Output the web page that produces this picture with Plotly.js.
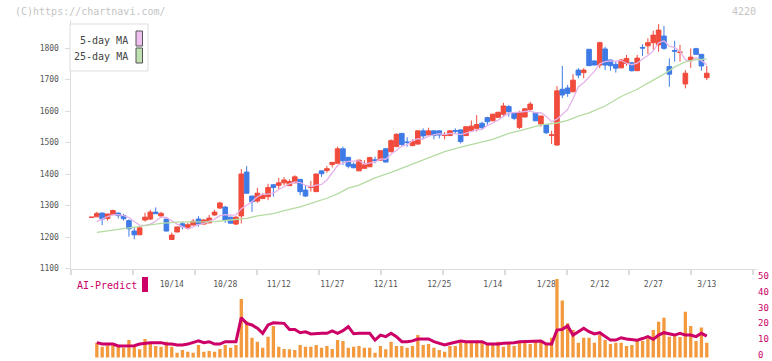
<!DOCTYPE html>
<html><head><meta charset="utf-8">
<script src="https://cdn.plot.ly/plotly-3.0.1.min.js"></script>
<style>html,body{margin:0;padding:0;background:#fff}#chart{width:772px;height:361px}</style>
</head><body><div id="chart"></div>
<script>
// x tick labels (trading-day index of each labelled date)
const tickIdx = [15, 25, 35, 45, 55, 65, 75, 85, 95, 105, 115];
const tickLabels = ['10/14','10/28','11/12','11/27','12/11','12/25','1/14','1/28','2/12','2/27','3/13'];
const volTicks = [0, 10, 20, 30, 40, 50];

const openP = [1262,1264,1276,1259,1272,1276,1268,1252,1219,1207,
 1254,1257,1279,1267,1257,1192,1216,1242,1228,1238,
 1257,1241,1245,1270,1292,1295,1263,1241,1267,1406,
 1330,1314,1322,1328,1366,1364,1372,1363,1372,1383,
 1349,1357,1344,1410,1411,1430,1434,1480,1453,1431,
 1410,1418,1423,1445,1444,1480,1471,1487,1529,1502,
 1490,1495,1537,1524,1537,1537,1522,1522,1538,1540,
 1522,1538,1545,1561,1579,1569,1580,1590,1614,1595,
 1548,1581,1605,1595,1559,1556,1523,1492,1669,1673,
 1661,1730,1722,1796,1759,1746,1797,1762,1748,1737,
 1751,1753,1728,1802,1807,1817,1810,1838,1741,1792,
 1786,1686,1760,1798,1780,1706];
const highP = [1263,1280,1277,1274,1287,1277,1273,1256,1231,1230,
 1277,1286,1294,1280,1258,1214,1232,1249,1245,1257,
 1266,1257,1270,1286,1312,1298,1264,1266,1416,1425,
 1331,1356,1340,1369,1367,1388,1390,1383,1396,1384,
 1363,1378,1401,1411,1425,1438,1487,1487,1454,1437,
 1445,1444,1455,1455,1476,1483,1510,1529,1530,1517,
 1510,1538,1545,1547,1538,1538,1533,1538,1545,1541,
 1551,1570,1587,1566,1582,1591,1597,1626,1619,1596,
 1601,1609,1629,1596,1585,1557,1537,1679,1743,1683,
 1717,1736,1736,1797,1760,1820,1804,1763,1756,1766,
 1778,1756,1778,1812,1831,1855,1876,1870,1767,1823,
 1810,1730,1799,1801,1781,1743];
const lowP = [1262,1264,1238,1252,1271,1259,1252,1201,1193,1206,
 1249,1254,1273,1261,1218,1191,1215,1224,1224,1237,
 1233,1240,1244,1267,1289,1245,1243,1238,1243,1338,
 1280,1309,1321,1317,1328,1352,1364,1362,1371,1333,
 1327,1344,1343,1391,1404,1421,1433,1429,1418,1418,
 1409,1417,1422,1434,1443,1437,1468,1486,1487,1487,
 1489,1494,1510,1523,1510,1513,1510,1521,1528,1497,
 1521,1534,1535,1540,1556,1568,1579,1582,1582,1571,
 1543,1580,1598,1568,1550,1527,1495,1489,1641,1645,
 1660,1704,1704,1743,1745,1736,1730,1728,1722,1736,
 1744,1725,1727,1775,1781,1794,1788,1794,1677,1757,
 1757,1672,1737,1779,1728,1698];
const closeP = [1263,1275,1257,1273,1284,1268,1258,1226,1207,1229,
 1263,1279,1274,1275,1219,1206,1232,1233,1239,1250,
 1241,1254,1260,1279,1308,1254,1244,1263,1400,1339,
 1312,1339,1332,1357,1357,1372,1381,1376,1391,1344,
 1330,1358,1400,1401,1417,1437,1480,1442,1425,1420,
 1444,1429,1452,1443,1474,1438,1506,1526,1494,1500,
 1503,1537,1521,1537,1522,1524,1523,1537,1536,1503,
 1550,1552,1557,1547,1566,1590,1596,1616,1598,1577,
 1595,1607,1622,1569,1584,1531,1524,1664,1651,1656,
 1698,1714,1730,1744,1746,1817,1746,1744,1736,1762,
 1767,1728,1768,1800,1817,1841,1857,1799,1717,1790,
 1787,1720,1771,1780,1743,1720];

const ma5 = [null,1249,1257,1265,1270,1271,1268,1262,1249,1238,
 1237,1241,1250,1264,1262,1251,1241,1233,1226,1232,
 1239,1243,1249,1257,1268,1271,1269,1270,1290,1300,
 1312,1328,1336,1336,1339,1351,1360,1369,1375,1373,
 1364,1360,1365,1367,1381,1403,1427,1435,1440,1441,
 1442,1432,1434,1438,1448,1447,1463,1477,1488,1493,
 1506,1512,1511,1520,1524,1528,1525,1529,1528,1525,
 1530,1536,1540,1542,1554,1562,1571,1583,1593,1595,
 1596,1599,1600,1594,1595,1583,1566,1574,1591,1605,
 1639,1677,1690,1708,1726,1750,1757,1759,1758,1761,
 1751,1747,1752,1765,1776,1791,1817,1823,1806,1801,
 1790,1763,1757,1770,1760,1747];

// 25-day MA, read at the marked trading days
const ma25Idx = [1,4,7,10,13,16,20,23,26,29,31,34,36,39,41,44,46,48,50,53,56,60,63,66,69,72,75,78,80,84,87,89,91,93,96,99,102,105,107,109,111,113,115];
const ma25 = [1215,1222,1231,1236,1243,1247,1247,1249,1254,1259,1267,1274,1284,1296,1307,1323,1337,1355,1365,1388,1405,1432,1451,1471,1485,1497,1510,1529,1537,1556,1562,1570,1584,1594,1616,1646,1669,1698,1717,1740,1756,1763,1765];

const volume = [0,9.4,6.8,7.7,7.7,6.8,6.2,11,6.8,5.2,
 11.7,9.4,7.2,6.8,10,6.8,3,4.7,3.7,3,
 7.9,3.7,4.1,3.7,5.4,7.9,6.2,7.9,37,23,
 12.5,10,6.2,13.2,20,6.8,5.4,5.2,4.7,7.9,
 6.8,6.8,7.9,6.2,7.2,5.4,11,10.4,6.2,6.8,
 7.2,6.2,6.2,3,7.2,5.2,10,7.2,7.2,6.2,
 7.2,14.2,7.9,8.5,6.2,4.7,3.7,7.2,7.2,9.4,
 9.4,9.4,9.4,9.4,8.5,8.5,10,6.8,8.5,7.2,
 9.4,9.4,8.5,11,9.4,7.9,12.5,49.7,36,21.6,
 17.4,9.4,12.5,12.5,9.4,14.2,11,8.5,9.4,9.4,
 7.2,7.9,10.4,10.4,12,17.4,22.7,25.2,13.2,14.2,
 13,29,20,10.4,19,9.4];

const aiPredict = [null,9.4,8.5,8.5,8.5,7.3,7.3,7.3,7.5,8.5,
 9,9.4,9.4,9.4,8.5,8.5,7.9,7.9,8.5,9.4,
 10.6,9.4,10,8.5,8.5,10,10,10,25.2,21.6,
 20.6,18.5,15.3,20.6,22,21.6,21.6,17.8,17.8,15.7,
 16.3,14.9,15.3,15.3,15.3,16.8,15.3,17,19.5,15,
 15.3,15.3,15.3,11,14.2,13.2,15.3,13.2,10,10,
 10.5,11.7,11.7,11.7,10,9,7.9,8.9,9.5,10.4,
 10,10,10,10,8.5,8.5,8.5,9,9,9.4,
 10,10,10,10,10.4,8.5,8.5,17.4,17.8,20,
 14.2,16.3,18.5,16.3,14.9,15.7,13.2,11,11,12.5,
 11.7,11.5,11,12,13.2,11.5,14.2,15.7,14.9,14.2,
 15.3,14.2,14.2,13.2,15.3,13.5];

const idx = closeP.map((_, i) => i);
const UP = '#f04b3c', DOWN = '#3f7be6';
const FONT = 'DejaVu Sans Mono';
const CRIM = '#cc0066';

// pixel helpers for paper-anchored decorations (plot area: x 71..757, y 20..359)
const L = 71, R = 15, T = 20, B = 2, W = 772, H = 361;
const pw = W - L - R, ph = H - T - B;
const px = v => (v - L) / pw;
const py = v => (H - B - v) / ph;

const traces = [
  {type:'candlestick', x: idx, open: openP, high: highP, low: lowP, close: closeP,
   increasing:{line:{color:UP, width:1}, fillcolor:UP},
   decreasing:{line:{color:DOWN, width:1}, fillcolor:DOWN},
   whiskerwidth:0, hoverinfo:'skip', showlegend:false, xaxis:'x', yaxis:'y'},
  {type:'scatter', mode:'lines', x: idx, y: ma5, line:{color:'#e6b2ea', width:1.3},
   hoverinfo:'skip', showlegend:false, xaxis:'x', yaxis:'y'},
  {type:'scatter', mode:'lines', x: ma25Idx, y: ma25, line:{color:'#b4dca2', width:1.3},
   hoverinfo:'skip', showlegend:false, xaxis:'x', yaxis:'y'},
  {type:'bar', x: idx, y: volume, marker:{color:'#f39a3f'}, hoverinfo:'skip',
   showlegend:false, xaxis:'x', yaxis:'y2'},
  {type:'scatter', mode:'lines', x: idx, y: aiPredict, line:{color:CRIM, width:3},
   hoverinfo:'skip', showlegend:false, xaxis:'x', yaxis:'y2'},
  {type:'scatter', mode:'lines', x: [], y: [], xaxis:'x2', yaxis:'y', showlegend:false, hoverinfo:'skip'}
];

const xr = [-3.83, 124.39];
const mainBottom = py(268.5);

// right-axis labels drawn as annotations (the lowest one sits on the page edge)
const volLabelAnn = volTicks.map(v => ({
  xref:'paper', yref:'y2', x:px(757), y:v, xanchor:'left', yanchor:'middle', showarrow:false,
  text:String(v), borderpad:0, yshift:2.5, font:{family:FONT, size:9, color:CRIM}
}));

const layout = {
  width: W, height: H,
  margin: {l:L, r:R, t:T, b:B},
  paper_bgcolor:'#fff', plot_bgcolor:'rgba(0,0,0,0)',
  font:{family:FONT, size:8, color:'#444'},
  boxgap: 0.1, boxgroupgap: 0.04, bargap: 0.38,
  showlegend:false,
  xaxis:{range:xr, anchor:'y', showgrid:false, zeroline:false, showline:true,
    linecolor:'#dcdcdc', linewidth:1.5, ticks:'', tickmode:'array',
    tickvals: tickIdx, ticktext: tickLabels, ticklabelstandoff: 7,
    tickfont:{family:FONT, size:8, color:'#555'}, rangeslider:{visible:false}, fixedrange:true},
  xaxis2:{range:xr, overlaying:'x', anchor:'y', side:'bottom', showgrid:false, zeroline:false,
    showline:false, ticks:'outside', ticklen:5, tickwidth:2, tickcolor:'#dcdcdc',
    tickmode:'linear', tick0:-3.83, dtick:11.59, showticklabels:false, fixedrange:true},
  yaxis:{domain:[mainBottom, 1], range:[1100, 1889], showgrid:false, zeroline:false,
    showline:true, linecolor:'#dcdcdc', linewidth:1.5, ticks:'outside', ticklen:5, tickcolor:'#dcdcdc',
    tickmode:'array', tickvals:[1100,1200,1300,1400,1500,1600,1700,1800], ticklabelstandoff:4,
    tickfont:{family:FONT, size:8, color:'#555'}, fixedrange:true},
  yaxis2:{domain:[0, mainBottom], range:[-0.95, 56.33], anchor:'x', side:'right',
    showgrid:false, zeroline:false, showline:false, ticks:'', showticklabels:false,
    fixedrange:true},
  shapes:[
    {type:'rect', xref:'paper', yref:'paper', x0:px(70), x1:px(148), y0:py(71), y1:py(24),
     fillcolor:'#fff', line:{color:'#dddddd', width:1}, layer:'above'},
    {type:'rect', xref:'paper', yref:'paper', x0:px(136), x1:px(142.5), y0:py(46), y1:py(31),
     fillcolor:'#efbff0', line:{color:'#555', width:1}, layer:'above'},
    {type:'rect', xref:'paper', yref:'paper', x0:px(136), x1:px(142.5), y0:py(63), y1:py(48),
     fillcolor:'#bfe0b0', line:{color:'#555', width:1}, layer:'above'},
    {type:'rect', xref:'paper', yref:'paper', x0:px(142), x1:px(148), y0:py(292), y1:py(277),
     fillcolor:CRIM, line:{width:0}, layer:'above'}
  ],
  annotations:[
    {xref:'paper', yref:'paper', x:px(13), y:py(12), xanchor:'left', yanchor:'middle', showarrow:false,
     text:'(C)https://chartnavi.com/', font:{family:FONT, size:10, color:'#c4c4c4'}},
    {xref:'paper', yref:'paper', x:px(758), y:py(12), xanchor:'right', yanchor:'middle', showarrow:false,
     text:'4220', font:{family:FONT, size:10, color:'#c4c4c4'}},
    {xref:'paper', yref:'paper', x:px(130), y:py(40), xanchor:'right', yanchor:'middle', showarrow:false,
     text:'5-day MA', font:{family:FONT, size:10, color:'#444'}},
    {xref:'paper', yref:'paper', x:px(130), y:py(56.5), xanchor:'right', yanchor:'middle', showarrow:false,
     text:'25-day MA', font:{family:FONT, size:10, color:'#444'}},
    {xref:'paper', yref:'paper', x:px(75), y:py(285), xanchor:'left', yanchor:'middle', showarrow:false,
     text:'AI-Predict', font:{family:FONT, size:10, color:CRIM}}
  ].concat(volLabelAnn)
};

Plotly.newPlot('chart', traces, layout, {displayModeBar:false, staticPlot:true});
</script>
</body></html>
